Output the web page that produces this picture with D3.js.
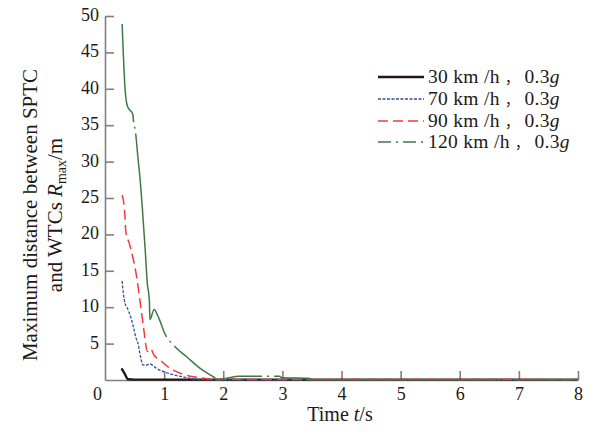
<!DOCTYPE html>
<html><head><meta charset="utf-8">
<script src="https://cdn.jsdelivr.net/npm/d3@7/dist/d3.min.js"></script>
<style>
html,body{margin:0;padding:0;background:#fff;}
svg{display:block;font-family:"Liberation Serif","Times New Roman",serif;}
</style></head>
<body>
<svg id="c" width="592" height="432"></svg>
<script>
// ---- data ----
const xTicks = [0,1,2,3,4,5,6,7,8];
const yTicks = [5,10,15,20,25,30,35,40,45,50];
const seriesNames = ["30 km /h", "70 km /h", "90 km /h", "120 km /h"];
const accel = "0.3";
const t30 = [0.28,0.33,0.39,0.5,8];
const v30 = [1.6,0.9,0.1,0.05,0.05];
const t70 = [0.29,0.31,0.34,0.365,0.45,0.535,0.56,0.60,0.64,0.68,0.76,0.87,1.10,1.32,1.56,2.0,8];
const v70 = [13.6,11.9,10.5,10.1,8.25,5.5,5.0,3.2,2.1,2.0,2.2,1.6,0.85,0.42,0.1,0.03,0.03];
const t90 = [0.29,0.33,0.355,0.41,0.48,0.535,0.59,0.65,0.72,0.77,0.83,0.93,1.10,1.32,1.61,1.86,2.5,8];
const v90 = [25.4,23.4,20.2,18.8,16.5,14.2,11.0,7.3,3.9,4.3,3.4,2.75,1.6,0.8,0.3,0.1,0.08,0.05];
const t120 = [0.29,0.34,0.38,0.47,0.485,0.51,0.56,0.60,0.63,0.68,0.715,0.75,0.76,0.83,0.90,1.01,1.18,1.38,1.61,1.83,1.91,2.1,2.25,2.95,3.0,3.45,3.5,8];
const v120 = [48.9,39.9,37.6,36.5,35.3,34.4,30.3,27.0,23.8,17.9,13.3,11.0,8.3,9.7,8.7,6.4,4.6,3.2,1.6,0.45,0.0,0.3,0.5,0.5,0.3,0.25,0.05,0.05];

// ---- layout ----
const svg = d3.select("#c");
const x = d3.scaleLinear().domain([0,8]).range([105,578]);
const y = d3.scaleLinear().domain([0,50]).range([380,16]);
const axisColor = "#808080";
const textColor = "#231815";

const styles = [
  {color:"#231815", width:2.4, dash:null, legDash:null},
  {color:"#3a4b9f", width:1.3, dash:"3,1.5", legDash:"3,1.5"},
  {color:"#f23a3a", width:1.5, dash:"10,5", legDash:"10,5"},
  {color:"#3f7a45", width:1.5, dash:"100,5,2,5,228,5,2,5", legDash:"13,5,2,5"}
];
const series = [[t30,v30],[t70,v70],[t90,v90],[t120,v120]];

// axes
const gx = svg.append("g").attr("transform",`translate(0,${y(0)})`)
  .call(d3.axisBottom(x).tickValues(xTicks).tickSizeInner(-9).tickSizeOuter(0).tickPadding(7).tickFormat(d3.format("d")));
const gy = svg.append("g").attr("transform",`translate(${x(0)},0)`)
  .call(d3.axisLeft(y).tickValues(yTicks).tickSizeInner(-9).tickSizeOuter(0).tickPadding(6).tickFormat(d3.format("d")));
[gx,gy].forEach(g=>{
  g.selectAll("path.domain").attr("stroke",axisColor).attr("stroke-width",1.6);
  g.selectAll(".tick line").attr("stroke",axisColor).attr("stroke-width",1.6);
  g.selectAll(".tick text").attr("fill",textColor).style("font-size","18px")
   .style("font-family",'"Liberation Serif","Times New Roman",serif');
});
gx.selectAll(".tick").filter(d=>d===0).select("text").attr("dx",-8);
gx.selectAll(".tick").filter(d=>d===0).select("line").remove();
gy.selectAll(".tick text").attr("dy","0.25em");

// lines
const line = d3.line().x(d=>x(d[0])).y(d=>y(d[1])).curve(d3.curveMonotoneX);
series.forEach((s,i)=>{
  const pts = s[0].map((t,j)=>[t,s[1][j]]);
  const p = svg.append("path").datum(pts).attr("d",line)
    .attr("fill","none").attr("stroke",styles[i].color).attr("stroke-width",styles[i].width)
    .attr("stroke-linejoin","round");
  if(styles[i].dash) p.attr("stroke-dasharray",styles[i].dash);
});

// legend
const legY = [77,99,121,142];
seriesNames.forEach((name,i)=>{
  const l = svg.append("line").attr("x1",378).attr("x2",424).attr("y1",legY[i]).attr("y2",legY[i])
    .attr("stroke",styles[i].color).attr("stroke-width",styles[i].width);
  if(styles[i].legDash) l.attr("stroke-dasharray",styles[i].legDash);
  const tx = svg.append("text").attr("x",428).attr("y",legY[i]+6).attr("fill",textColor)
    .style("font-size","19.5px").style("letter-spacing","0.3px");
  tx.append("tspan").text(name+"  ");
  tx.append("tspan").style("font-family",'"Noto Sans CJK SC",sans-serif').style("font-size","14px").text("，");
  tx.append("tspan").text("  "+accel);
  tx.append("tspan").style("font-style","italic").text("g");
});

// axis titles
const xt = svg.append("text").attr("x",340).attr("y",421).attr("text-anchor","middle")
  .attr("fill",textColor).style("font-size","20px");
xt.append("tspan").text("Time ");
xt.append("tspan").style("font-style","italic").text("t");
xt.append("tspan").text("/s");

const yt1 = svg.append("text").attr("transform","translate(37,215) rotate(-90)").attr("text-anchor","middle")
  .attr("fill",textColor).style("font-size","21px").text("Maximum distance between SPTC");
const yt2 = svg.append("text").attr("transform","translate(62,215) rotate(-90)").attr("text-anchor","middle")
  .attr("fill",textColor).style("font-size","21px");
yt2.append("tspan").text("and WTCs ");
yt2.append("tspan").style("font-style","italic").text("R");
yt2.append("tspan").attr("dy",4).style("font-size","14px").text("max");
yt2.append("tspan").attr("dy",-4).text("/m");
</script>
</body></html>
